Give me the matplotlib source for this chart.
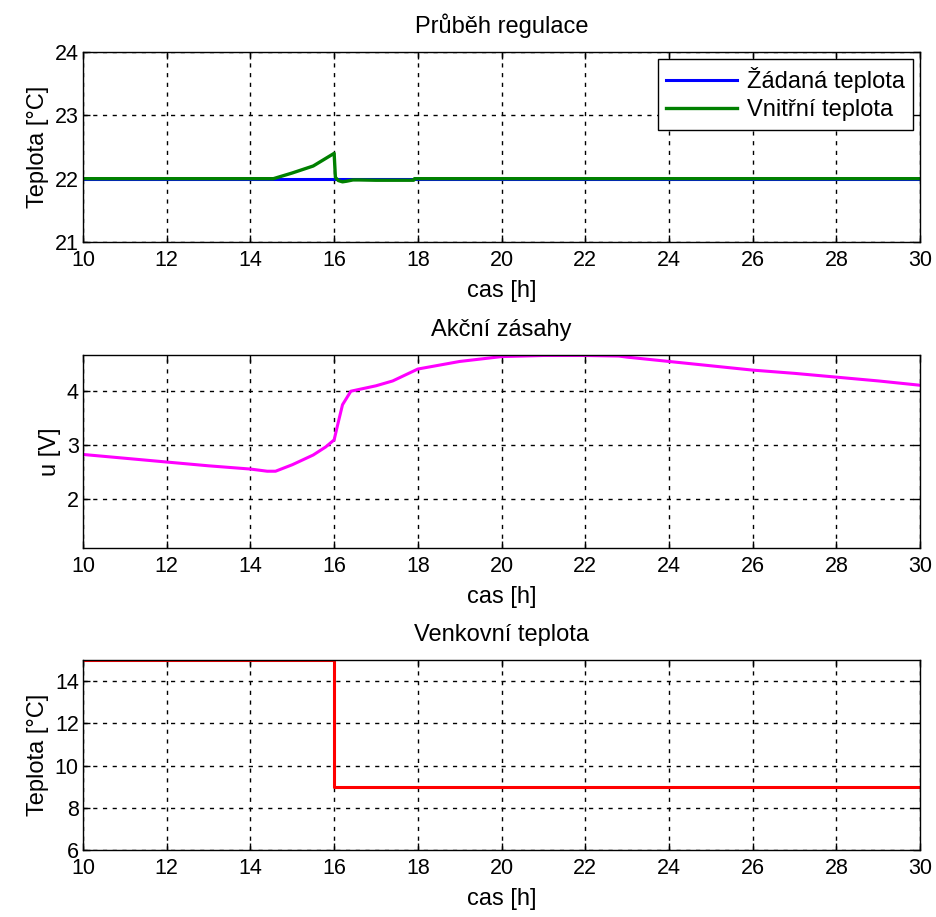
import numpy as np
import matplotlib
matplotlib.use("Agg")
import matplotlib.pyplot as plt

plt.rcParams['font.family'] = ['Liberation Sans', 'DejaVu Sans']

# --- data ---
t_set = [10, 30]
T_set = [22, 22]

t_in = [10, 14.55, 15.0, 15.5, 16.0, 16.03, 16.1, 16.2, 16.3, 16.45, 16.6, 17.0, 17.5, 17.9, 17.92, 30]
T_in = [22, 22.0, 22.09, 22.2, 22.4, 22.02, 21.97, 21.95, 21.96, 21.98, 21.98, 21.975, 21.975, 21.975, 22.0, 22]

t_u = [10, 11, 12, 13, 14, 14.4, 14.6, 15.0, 15.5, 15.8, 16.0, 16.1, 16.2, 16.4, 17.0, 17.4, 18.0,
       18.5, 19.0, 20.0, 21.0, 22.0, 22.8, 23.0, 24.0, 25.0, 26.0, 27.0, 28.0, 29.0, 30]
u = [2.83, 2.76, 2.69, 2.62, 2.56, 2.52, 2.52, 2.64, 2.82, 2.97, 3.1, 3.43, 3.75, 4.0, 4.1, 4.19, 4.41,
     4.48, 4.55, 4.64, 4.66, 4.66, 4.65, 4.63, 4.55, 4.47, 4.39, 4.33, 4.26, 4.19, 4.11]

t_out = [10, 16, 16, 30]
T_out = [15, 15, 9, 9]

xticks = list(range(10, 31, 2))

fig = plt.figure(figsize=(9.36, 9.17), dpi=100)
left, width = 0.0887, 0.8943
ax1 = fig.add_axes([left, 0.7361, width, 0.2072])
ax2 = fig.add_axes([left, 0.4024, width, 0.2105])
ax3 = fig.add_axes([left, 0.0731, width, 0.2072])

fs_tick = 15.5
fs = 17

def style(ax):
    ax.set_xlim(10, 30)
    ax.set_xticks(xticks)
    ax.grid(True, color='black', linestyle=(0, (3, 4)), linewidth=1)
    ax.tick_params(direction='in', top=True, right=True, labelsize=fs_tick, length=5, width=1)
    ax.tick_params(axis='x', pad=6)
    ax.tick_params(axis='y', pad=3)
    for s in ax.spines.values():
        s.set_linewidth(1)
    ax.set_xlabel('cas [h]', fontsize=fs, labelpad=6)

ax1.plot(t_set, T_set, color='#0000ff', lw=2.2, label='Žádaná teplota')
ax1.plot(t_in, T_in, color='#008000', lw=2.4, label='Vnitřní teplota')
ax1.set_ylim(21, 24)
ax1.set_yticks([21, 22, 23, 24])
ax1.set_ylabel('Teplota [°C]', fontsize=fs)
ax1.set_title('Průběh regulace', fontsize=fs, pad=14)
style(ax1)
leg = ax1.legend(loc='upper right', fontsize=fs, fancybox=False, edgecolor='black',
                 framealpha=1, borderaxespad=0.3, handlelength=3.0, labelspacing=0.25,
                 handletextpad=0.4, borderpad=0.35)
leg.get_frame().set_linewidth(1)

ax2.plot(t_u, u, color='#ff00ff', lw=2.2)
ax2.set_ylim(1.1, 4.67)
ax2.set_yticks([2, 3, 4])
ax2.set_ylabel('u [V]', fontsize=fs)
ax2.set_title('Akční zásahy', fontsize=fs, pad=14)
style(ax2)

ax3.plot(t_out, T_out, color='#ff0000', lw=2.2)
ax3.set_ylim(6, 15)
ax3.set_yticks([6, 8, 10, 12, 14])
ax3.set_ylabel('Teplota [°C]', fontsize=fs)
ax3.set_title('Venkovní teplota', fontsize=fs, pad=14)
style(ax3)

fig.savefig('out.png', dpi=100)
